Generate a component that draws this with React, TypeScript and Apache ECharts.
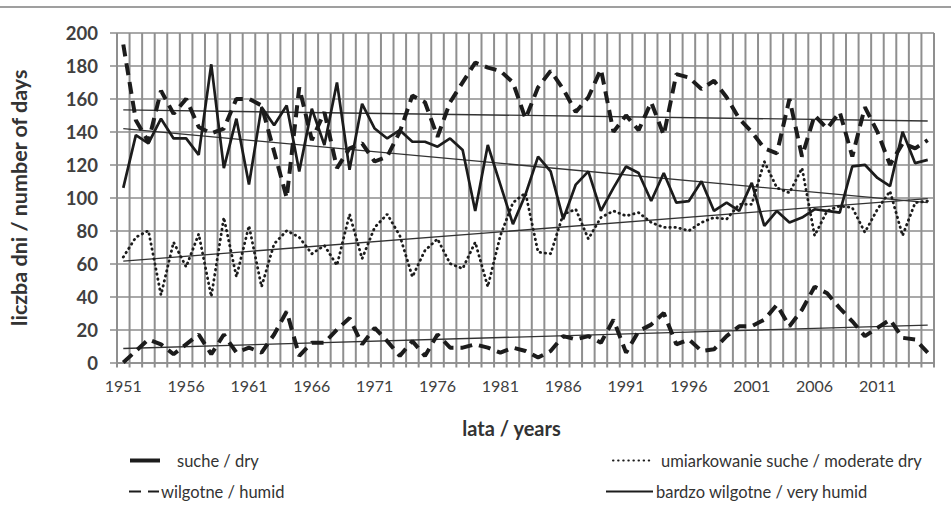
import React, { useEffect, useRef } from "react";
import * as echarts from "echarts";

const years: string[] = [];
for (let y = 1951; y <= 2015; y++) years.push(String(y));

const yTicks = { min: 0, max: 200, interval: 20 };

const dry = [
  106, 138, 133, 148, 136, 136, 126, 181, 118, 148,
  108, 155, 144, 156, 116, 154, 132, 170, 117, 157,
  142, 136, 141, 134, 134, 131, 136, 129, 92, 132,
  108, 84, 102, 125, 116, 87, 108, 116, 92, 106,
  119, 115, 98, 115, 97, 98, 110, 92, 97, 92,
  109, 83, 92, 85, 88, 93, 92, 91, 119, 120,
  112, 107, 140, 121, 123,
];

const moderateDry = [
  64, 76, 80, 41, 73, 58, 78, 40, 88, 52,
  83, 46, 72, 80, 76, 66, 71, 59, 90, 63,
  82, 90, 77, 52, 68, 75, 60, 57, 73, 46,
  77, 97, 103, 67, 66, 90, 93, 75, 88, 92,
  89, 91, 85, 82, 82, 80, 85, 88, 87, 96,
  96, 122, 106, 103, 118, 77, 92, 95, 94, 79,
  93, 104, 77, 97, 98,
];

const humid = [
  193, 147, 134, 165, 151, 160, 143, 139, 142, 160,
  160, 156, 128, 100, 167, 135, 152, 118, 130, 133,
  122, 125, 140, 162, 158, 137, 158, 170, 182, 179,
  177, 170, 148, 167, 177, 166, 152, 161, 178, 140,
  150, 141, 158, 138, 175, 173, 166, 171, 161, 148,
  140, 130, 127, 160, 125, 150, 142, 152, 125, 155,
  140, 120, 133, 130, 135,
];

const veryHumid = [
  0, 7, 14, 11, 5, 11, 17, 5, 17, 6,
  9, 6, 17, 31, 4, 12, 12, 20, 27, 11,
  21, 13, 4, 13, 4, 17, 9, 9, 11, 9,
  6, 9, 7, 3, 7, 16, 14, 16, 12, 26,
  6, 19, 23, 30, 11, 14, 7, 8, 16, 22,
  22, 26, 35, 22, 32, 46, 42, 33, 25, 16,
  21, 26, 15, 14, 6,
];

// trend lines: [value at first year, value at last year]
const trendDry = [142, 97];
const trendModerateDry = [61.5, 99.5];
const trendHumid = [153.3, 146.6];
const trendVeryHumid = [8.5, 22.7];

const names = {
  dry: "suche / dry",
  mod: "umiarkowanie suche / moderate dry",
  humid: "wilgotne / humid",
  vh: "bardzo wilgotne / very humid",
};

const FONT = "Lato, 'Noto Sans', sans-serif";
const INK = "#1c1c1c";
const VGRID = "#8f8f8f";

function trendSeries(name: string, v: number[]) {
  return {
    name,
    type: "line",
    data: [
      [years[0], v[0]],
      [years[years.length - 1], v[1]],
    ],
    symbol: "none",
    silent: true,
    lineStyle: { color: "#333", width: 1.3 },
    z: 3,
  };
}

export default function App() {
  const ref = useRef<HTMLDivElement>(null);
  useEffect(() => {
    if (!ref.current) return;
    const chart = echarts.init(ref.current, null, { renderer: "svg" });
    const legendText = { fontFamily: FONT, fontSize: 16.5, color: "#333" };
    const legendBase = {
      padding: 0,
      itemHeight: 14,
      itemStyle: { opacity: 0, borderWidth: 0 },
    };
    chart.setOption({
      animation: false,
      backgroundColor: "#fff",
      grid: { left: 117, right: 17, top: 33, bottom: 142.5, containLabel: false },
      xAxis: {
        type: "category",
        data: years,
        boundaryGap: true,
        name: "lata / years",
        nameLocation: "middle",
        nameGap: 55,
        nameTextStyle: {
          fontFamily: FONT,
          fontSize: 20,
          fontWeight: "bold",
          color: "#333",
          padding: [0, 28, 0, 0],
        },
        axisLine: { show: true, lineStyle: { color: "#8c8c8c", width: 1.5 } },
        axisTick: { show: false },
        axisLabel: {
          interval: 4,
          fontFamily: FONT,
          fontSize: 16,
          color: "#404040",
          margin: 15,
        },
        splitLine: { show: false },
      },
      yAxis: {
        type: "value",
        min: yTicks.min,
        max: yTicks.max,
        interval: yTicks.interval,
        name: "liczba dni / number of days",
        nameLocation: "middle",
        nameGap: 87,
        nameRotate: 90,
        nameTextStyle: { fontFamily: FONT, fontSize: 21.5, fontWeight: "bold", color: "#333" },
        axisLine: { show: false },
        axisTick: { show: true, length: 7, lineStyle: { color: "#8c8c8c", width: 1.5 } },
        axisLabel: {
          fontFamily: FONT,
          fontSize: 18.5,
          fontWeight: "bold",
          color: "#404040",
          margin: 19,
        },
        splitLine: { show: true, lineStyle: { color: "#8c8c8c", width: 1.5 } },
      },
      legend: [
        {
          ...legendBase,
          data: [{ name: names.dry, lineStyle: { width: 4 } }],
          left: 128,
          top: 452,
          itemWidth: 30,
          textStyle: { ...legendText, padding: [0, 0, 0, 12] },
        },
        {
          ...legendBase,
          data: [names.humid],
          left: 128,
          top: 483,
          itemWidth: 30,
          textStyle: { ...legendText, padding: [0, 0, 0, -3] },
        },
        {
          ...legendBase,
          data: [names.mod],
          left: 612,
          top: 452,
          itemWidth: 38,
          textStyle: { ...legendText, padding: [0, 0, 0, 5] },
        },
        {
          ...legendBase,
          data: [{ name: names.vh, lineStyle: { type: "solid", width: 2 } }],
          left: 605,
          top: 483,
          itemWidth: 47,
          textStyle: { ...legendText, padding: [0, 0, 0, -2] },
        },
      ],
      graphic: [
        {
          type: "line",
          shape: { x1: 0, y1: 7, x2: 951, y2: 7 },
          style: { stroke: "#7f7f7f", lineWidth: 1.5 },
          silent: true,
        },
      ],
      series: [
        {
          // vertical grid: one line at each year boundary, with a tick below the axis
          name: "grid",
          type: "custom",
          silent: true,
          clip: false,
          z: 1,
          data: years.map((_, i) => [i, 0]),
          encode: { x: 0, y: 1 },
          renderItem: (params: any, api: any) => {
            const i = api.value(0);
            const c = api.coord([i, 0]);
            const w = api.size([1, 0])[0];
            const cs = params.coordSys;
            const xs = [c[0] - w / 2];
            if (i === years.length - 1) xs.push(c[0] + w / 2);
            return {
              type: "group",
              children: xs.map((x) => ({
                type: "line",
                shape: { x1: x, y1: cs.y, x2: x, y2: cs.y + cs.height + 5 },
                style: { stroke: VGRID, lineWidth: 2 },
              })),
            };
          },
        },
        {
          name: names.dry,
          type: "line",
          data: dry,
          symbol: "none",
          lineStyle: { color: INK, width: 2.7 },
          itemStyle: { color: INK },
          z: 5,
        },
        {
          name: names.mod,
          type: "line",
          data: moderateDry,
          symbol: "none",
          lineStyle: { color: INK, width: 2.8, type: [0.5, 4.6], cap: "round" },
          itemStyle: { color: INK },
          z: 5,
        },
        {
          name: names.humid,
          type: "line",
          data: humid,
          symbol: "none",
          lineStyle: { color: INK, width: 4, type: [12, 7] },
          itemStyle: { color: INK },
          z: 5,
        },
        {
          name: names.vh,
          type: "line",
          data: veryHumid,
          symbol: "none",
          lineStyle: { color: INK, width: 4, type: [12, 7] },
          itemStyle: { color: INK },
          z: 5,
        },
        trendSeries("trend suche", trendDry),
        trendSeries("trend umiarkowanie suche", trendModerateDry),
        trendSeries("trend wilgotne", trendHumid),
        trendSeries("trend bardzo wilgotne", trendVeryHumid),
      ],
    });
    return () => chart.dispose();
  }, []);
  return (
    <div
      ref={ref}
      style={{ position: "absolute", left: 0, top: 0, width: 951, height: 505 }}
    />
  );
}
